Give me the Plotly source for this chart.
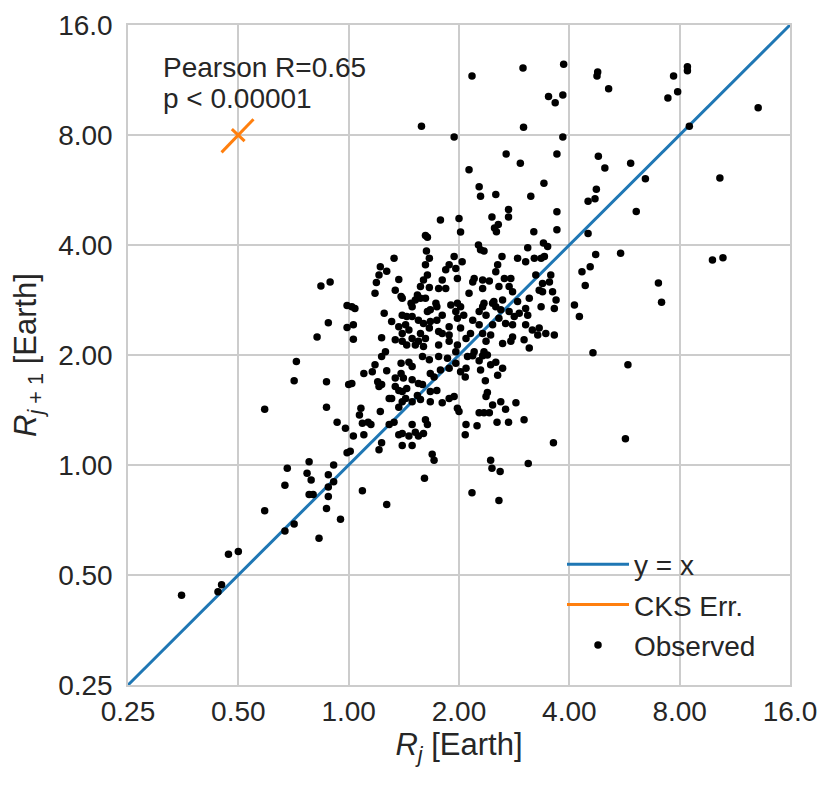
import plotly.graph_objects as go

# inner planet radius R_j and next-planet radius R_{j+1}, in Earth radii
rj = [
    2.17, 2.99, 3.86, 3.51, 3.66, 3.84, 3.00, 4.78, 4.76, 5.12, 7.70, 7.43, 7.90, 8.40, 8.40, 13.1, 8.50,
    3.84, 3.70, 2.69, 2.94, 2.13, 3.41, 2.27, 2.29, 2.52, 3.14, 2.73, 2.73, 2.46, 3.70, 2.00, 2.02,
    2.50, 2.56, 2.53, 3.20, 3.70, 3.40, 2.26,
    4.80, 5.00, 5.88, 6.45, 4.74, 4.50, 4.70, 6.09, 4.50, 10.3,
    1.58, 1.94, 1.78, 1.62, 1.64,
    1.63, 1.66, 1.33, 1.94, 1.22, 1.27, 1.21, 1.62, 1.88, 1.84, 1.96, 1.98, 1.37, 1.64, 1.60, 1.57,
    1.66, 1.80, 1.84, 1.76, 1.19, 1.18, 1.34, 1.39, 1.40, 1.54, 1.52, 1.57, 1.48, 1.49, 1.62, 1.73,
    1.74, 1.90, 1.98, 1.02, 1.04, 1.25, 1.40, 1.44, 1.49, 1.64, 1.67, 1.80, 1.96, 1.98, 1.03, 1.31,
    1.37, 1.43, 1.55, 1.60, 1.67, 1.66, 1.74, 1.88, 1.88, 1.40, 1.46, 1.49, 1.57, 1.55, 1.62, 1.76,
    1.80, 1.23, 1.03, 1.34, 1.40, 1.44, 1.52, 1.60, 1.76, 1.88, 1.98, 1.26, 1.96,
    2.29, 2.34, 2.62, 2.89, 3.08, 3.49, 3.04, 3.21, 3.35, 3.42, 2.04, 2.55, 2.52, 2.20, 2.18, 2.32,
    2.42, 2.66, 2.77, 2.57, 2.74, 2.80, 2.32, 2.34, 2.47, 2.13, 3.24, 3.38, 3.56, 3.53, 3.31, 3.38,
    3.60, 3.68, 3.64, 3.11, 3.35, 3.04, 2.89, 2.63, 2.49, 2.52, 2.32, 2.27, 2.37, 2.60, 2.74, 2.83,
    2.57, 2.68, 2.80, 2.47, 2.27, 2.18, 2.06, 2.02, 2.92, 3.08, 3.04, 2.15, 2.32, 2.44, 2.37, 2.09,
    2.02, 3.17, 3.31, 3.28, 3.45, 3.64, 2.63, 2.77, 2.80, 3.01, 3.11, 2.34, 2.20,
    1.23, 1.39, 1.46, 1.49, 1.59, 1.66, 1.86, 1.76, 1.18, 1.10, 1.16, 1.27, 1.39, 1.41, 1.34, 1.49,
    1.20, 1.23, 1.21, 1.34, 1.37, 1.40, 1.44, 1.55, 1.59, 1.67, 1.71, 1.78, 1.88, 1.96, 1.02, 1.74,
    1.67, 1.54, 1.57, 1.43, 1.40, 1.31, 1.29, 1.67, 1.80, 1.88, 1.94, 1.98, 1.08, 1.07, 1.22, 1.37,
    1.49, 1.09, 1.13, 1.15, 1.10, 1.29, 1.33, 1.49, 1.62, 1.64, 1.52, 1.55, 1.40, 1.37, 1.46, 1.40,
    1.49, 1.23, 1.21, 1.03, 1.01, 1.60, 1.69, 1.71,
    2.11, 2.18, 2.32, 2.39, 2.27, 2.52, 2.44, 2.09, 2.02, 2.08, 2.29, 2.63, 2.55, 2.36, 2.39, 2.37,
    2.47, 2.60, 2.86, 2.68, 2.27, 2.34, 2.42, 2.00, 2.09, 2.24, 2.54, 2.73, 3.01, 2.08, 3.62, 2.44, 3.09,
    0.84, 0.89, 0.99, 0.88, 0.99, 0.82, 0.72, 0.71, 0.87, 1.00, 0.59, 0.87, 0.93, 0.98, 0.99, 0.78,
    0.91, 0.68, 0.77, 0.79, 0.88, 0.67, 0.78, 0.80, 0.88, 0.88, 0.91, 0.87, 0.95, 0.59, 0.71, 0.67,
    0.83, 0.50, 0.47, 0.45, 0.44, 0.35,
    4.72, 5.52, 4.56, 4.33, 4.42, 4.13, 4.26, 7.00, 7.14, 4.64, 9.83, 10.5, 5.78, 5.69,
    1.09, 1.27, 1.61, 2.46, 2.59, 2.17, 2.57,
]
rj1 = [
    11.6, 12.2, 12.5, 10.2, 9.8, 10.3, 8.4, 11.9, 11.6, 10.7, 11.6, 10.1, 10.5, 12.3, 12.0, 9.5, 8.45,
    7.9, 7.1, 7.1, 6.7, 6.43, 5.9, 5.77, 5.44, 5.5, 5.44, 5.0, 4.77, 4.77, 4.93, 4.73, 4.34,
    4.45, 4.55, 4.35, 4.35, 4.4, 4.05, 4.0,
    7.0, 6.5, 6.7, 6.07, 5.68, 5.27, 5.35, 4.94, 4.3, 6.1,
    8.46, 7.9, 4.68, 4.25, 4.2,
    3.85, 3.68, 3.68, 3.72, 3.49, 3.39, 3.31, 3.53, 3.53, 3.42, 3.45, 3.24, 3.22, 3.31, 3.21, 3.08,
    3.06, 3.21, 3.04, 3.04, 3.16, 2.95, 3.01, 2.89, 2.86, 2.92, 2.83, 2.86, 2.77, 2.71, 2.86, 2.77,
    2.71, 2.74, 2.77, 2.71, 2.68, 2.60, 2.57, 2.55, 2.55, 2.63, 2.66, 2.57, 2.63, 2.52, 2.42, 2.47,
    2.39, 2.42, 2.49, 2.44, 2.47, 2.37, 2.49, 2.39, 2.27, 2.29, 2.34, 2.22, 2.29, 2.18, 2.22, 2.32,
    2.29, 2.23, 2.21, 2.20, 2.18, 2.13, 2.13, 2.11, 2.13, 2.18, 2.13, 2.04, 2.04,
    3.88, 3.85, 3.72, 3.68, 3.93, 3.96, 3.60, 3.68, 3.68, 3.72, 3.60, 3.53, 3.38, 3.24, 3.17, 3.21,
    3.19, 3.24, 3.24, 3.08, 3.08, 2.98, 3.04, 2.77, 2.77, 2.95, 3.31, 3.14, 3.31, 3.17, 3.01, 2.98,
    2.98, 2.83, 2.68, 2.86, 2.71, 2.68, 2.80, 2.83, 2.80, 2.71, 2.71, 2.63, 2.57, 2.66, 2.63, 2.55,
    2.52, 2.44, 2.42, 2.42, 2.42, 2.49, 2.57, 2.71, 2.60, 2.57, 2.42, 2.29, 2.29, 2.27, 2.18, 2.22,
    2.37, 2.34, 2.37, 2.27, 2.29, 2.27, 2.15, 2.18, 2.24, 2.20, 2.09, 2.04, 2.04,
    1.98, 1.90, 1.91, 1.86, 1.98, 1.94, 1.96, 1.98, 1.88, 1.78, 1.80, 1.81, 1.78, 1.73, 1.73, 1.71,
    1.69, 1.66, 1.64, 1.64, 1.60, 1.59, 1.62, 1.67, 1.66, 1.78, 1.74, 1.82, 1.84, 1.90, 1.67, 1.60,
    1.59, 1.55, 1.51, 1.52, 1.49, 1.52, 1.52, 1.49, 1.48, 1.52, 1.54, 1.43, 1.43, 1.37, 1.40, 1.44,
    1.49, 1.30, 1.31, 1.29, 1.21, 1.29, 1.31, 1.29, 1.33, 1.29, 1.23, 1.20, 1.22, 1.21, 1.20, 1.13,
    1.13, 1.15, 1.10, 1.20, 1.09, 1.22, 1.07, 1.03,
    1.98, 1.99, 1.99, 2.00, 1.93, 1.91, 1.88, 1.84, 1.80, 1.74, 1.82, 1.84, 1.76, 1.70, 1.58, 1.54,
    1.46, 1.49, 1.48, 1.42, 1.39, 1.39, 1.39, 1.40, 1.29, 1.28, 1.31, 1.31, 1.33, 1.21, 1.15, 1.03, 1.01,
    3.09, 3.17, 2.73, 2.45, 2.38, 2.24, 1.92, 1.70, 1.69, 1.66, 1.42, 1.44, 1.31, 1.26, 1.08, 1.02,
    1.00, 0.98, 0.95, 0.91, 0.94, 0.88, 0.83, 0.83, 0.82, 0.87, 0.90, 0.76, 0.71, 0.75, 0.69, 0.66,
    0.63, 0.58, 0.57, 0.47, 0.45, 0.44,
    3.77, 3.80, 3.49, 3.38, 3.10, 2.74, 2.55, 3.15, 2.79, 2.03, 3.64, 3.69, 1.88, 1.18,
    0.85, 0.78, 0.92, 0.98, 0.96, 0.84, 0.80,
]
print(len(rj), len(rj1))

# y = x reference line
ref_line = [0.25, 16.0]

# CKS error cross centred on (0.5, 8)
err_long_x = [0.45, 0.55]
err_long_y = [7.17, 8.83]
err_short_x = [0.48, 0.52]
err_short_y = [8.30, 7.70]

tick_vals = [0.25, 0.5, 1, 2, 4, 8, 16]
tick_text = ["0.25", "0.50", "1.00", "2.00", "4.00", "8.00", "16.0"]

font_family = "Arial, Liberation Sans, sans-serif"
text_color = "#262626"
grid_color = "#cccccc"

fig = go.Figure()

fig.add_trace(go.Scatter(
    x=ref_line, y=ref_line, mode="lines", name="y = x",
    line=dict(color="#1f77b4", width=3), legendgroup="a",
))
fig.add_trace(go.Scatter(
    x=err_long_x + [None] + err_short_x, y=err_long_y + [None] + err_short_y,
    mode="lines", name="CKS Err.", line=dict(color="#ff7f0e", width=3), legendgroup="b",
))
fig.add_trace(go.Scatter(
    x=rj, y=rj1, mode="markers", name="Observed",
    marker=dict(color="black", size=7.5), legendgroup="c",
))

axis_common = dict(
    type="log", tickvals=tick_vals, ticktext=tick_text,
    range=[-0.60206, 1.20412], automargin=False,
    showgrid=True, gridcolor=grid_color, gridwidth=1.5,
    showline=True, linecolor=grid_color, linewidth=1.5, mirror=True,
    zeroline=False, ticks="",
    tickfont=dict(size=28, color=text_color, family=font_family),
)

fig.update_xaxes(
    **axis_common, ticklabelstandoff=1,
    title=dict(text="<i>R</i><sub><i>j</i></sub> [Earth]", font=dict(size=31, color=text_color, family=font_family), standoff=3),
)
fig.update_yaxes(
    **axis_common, ticklabelstandoff=8,
    title=dict(text="<i>R</i><sub><i>j</i> + 1</sub> [Earth]", font=dict(size=31, color=text_color, family=font_family), standoff=12),
)

for line_text, y_pos in [("Pearson R=0.65", 0.935), ("p &lt; 0.00001", 0.889)]:
    fig.add_annotation(
        xref="paper", yref="paper", x=0.05, y=y_pos, xanchor="left", yanchor="middle",
        text=line_text, showarrow=False, align="left",
        font=dict(size=28, color=text_color, family=font_family),
    )

fig.update_layout(
    width=822, height=778,
    margin=dict(l=120, r=40, t=17, b=101),
    paper_bgcolor="white", plot_bgcolor="white",
    font=dict(family=font_family, color=text_color),
    legend=dict(
        x=0.6556, y=0.022, xanchor="left", yanchor="bottom",
        bgcolor="rgba(0,0,0,0)", font=dict(size=28, color=text_color, family=font_family),
        itemwidth=62, tracegroupgap=1,
    ),
)

fig.write_html("out.html")
